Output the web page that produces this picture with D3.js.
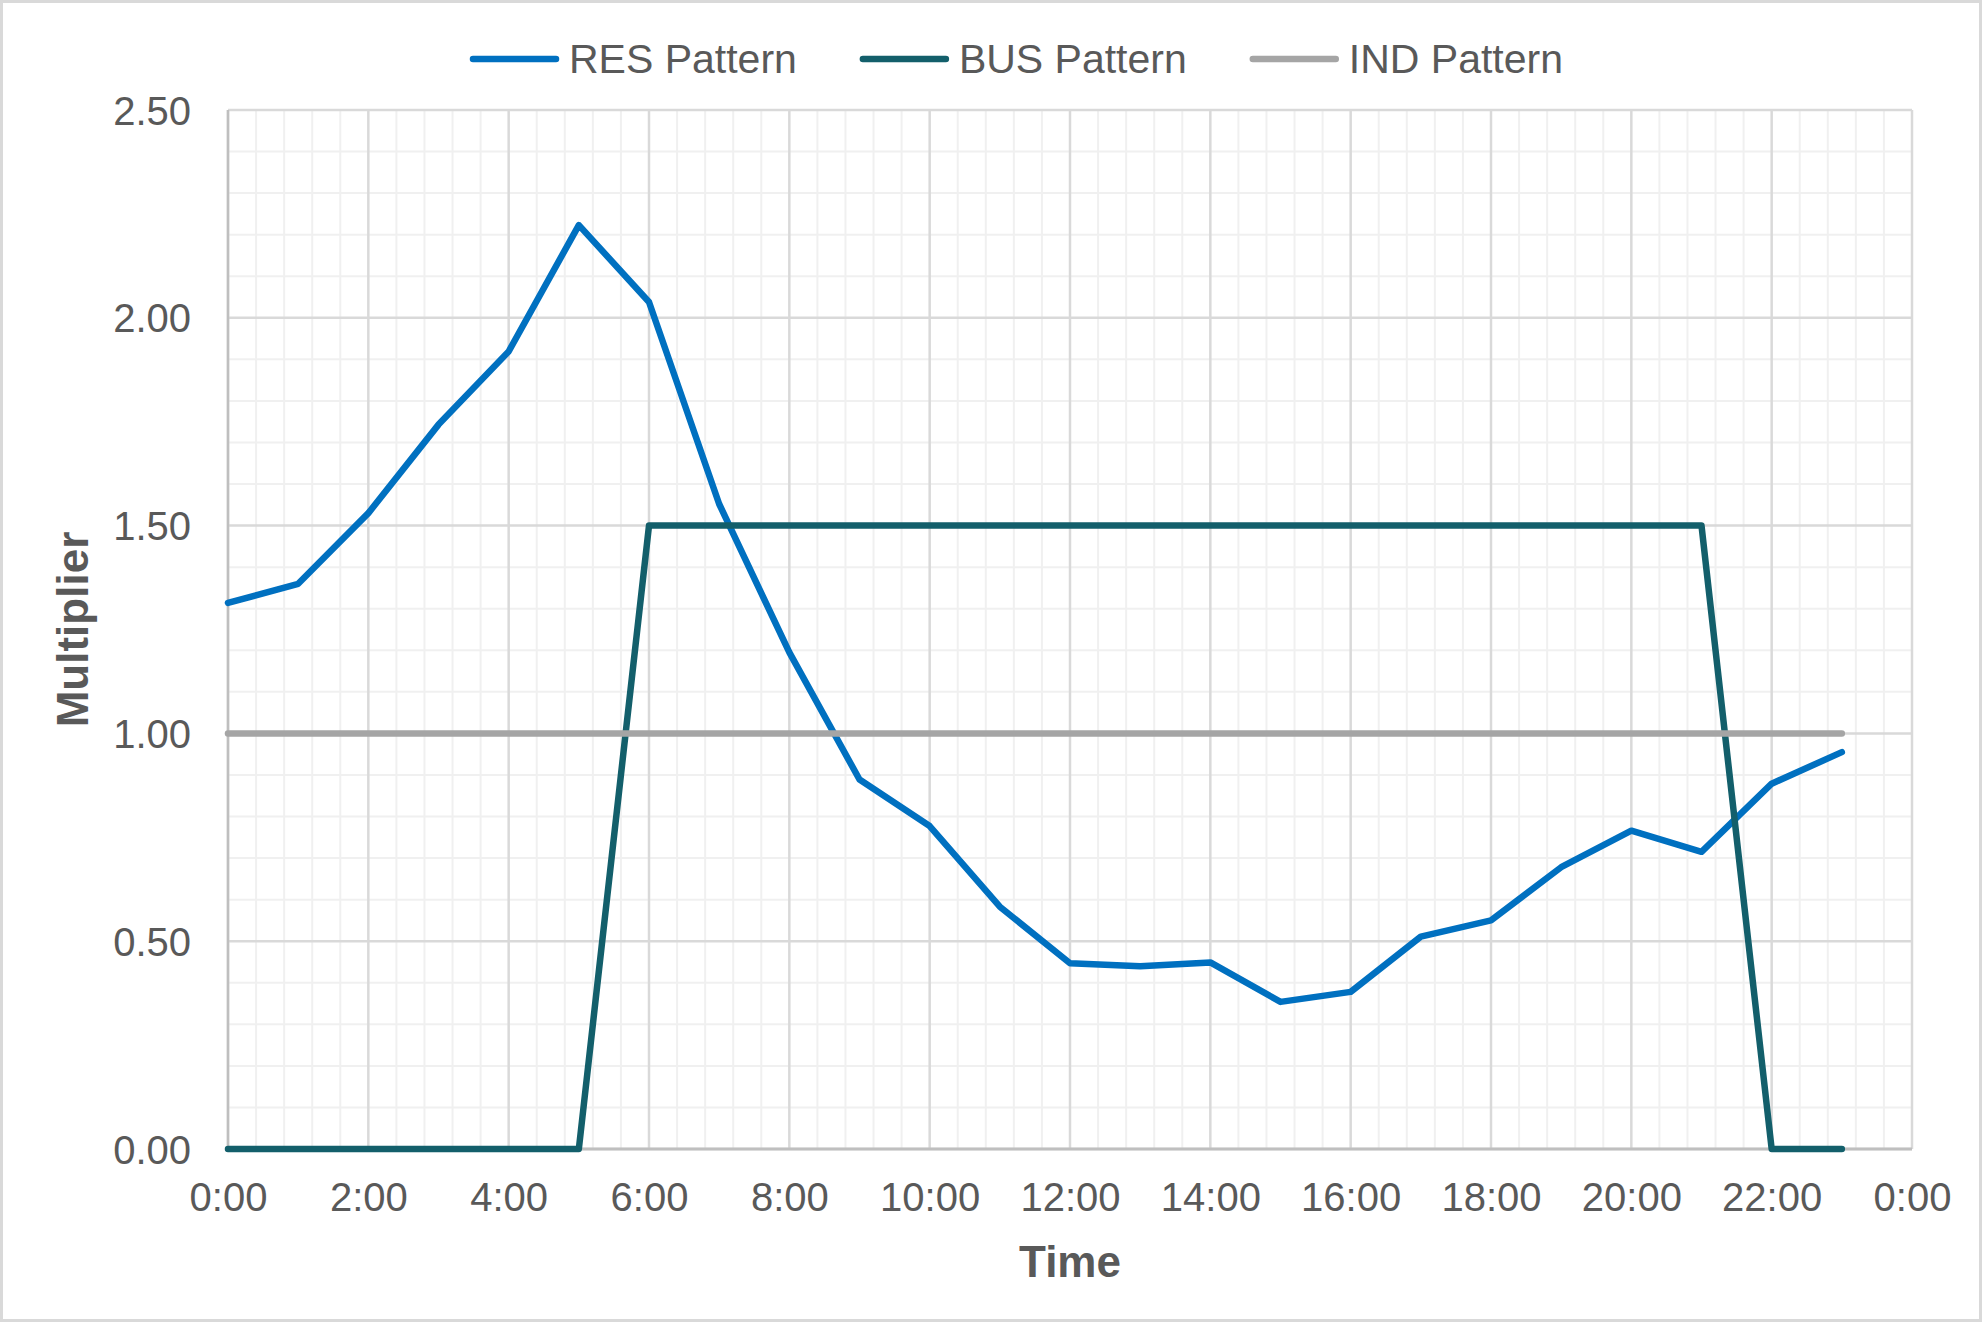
<!DOCTYPE html>
<html>
<head>
<meta charset="utf-8">
<script src="https://cdn.jsdelivr.net/npm/d3@7"></script>
<style>
  html, body { margin: 0; padding: 0; background: #fff; }
  svg { display: block; }
  text { font-family: "Liberation Sans", Arial, sans-serif; fill: #595959; }
</style>
</head>
<body>
<svg id="chart" width="1982" height="1322"></svg>
<script>
// ---- data ----
const hours = [0,1,2,3,4,5,6,7,8,9,10,11,12,13,14,15,16,17,18,19,20,21,22,23];
const resPattern = [1.314,1.360,1.530,1.743,1.919,2.223,2.038,1.552,1.195,0.889,0.777,0.583,0.447,0.440,0.449,0.354,0.378,0.511,0.550,0.678,0.766,0.715,0.879,0.955];
const busPattern = [0,0,0,0,0,0,1.5,1.5,1.5,1.5,1.5,1.5,1.5,1.5,1.5,1.5,1.5,1.5,1.5,1.5,1.5,1.5,0,0];
const indPattern = [1,1,1,1,1,1,1,1,1,1,1,1,1,1,1,1,1,1,1,1,1,1,1,1];
const seriesNames = ["RES Pattern", "BUS Pattern", "IND Pattern"];
const seriesColors = ["#0070C0", "#135F6B", "#A5A5A5"];
const xTickHours = [0,2,4,6,8,10,12,14,16,18,20,22,24];
const yTickValues = [0,0.5,1.0,1.5,2.0,2.5];
const xTitle = "Time";
const yTitle = "Multiplier";

// ---- layout ----
const W = 1982, H = 1322;
const margin = {left: 228, top: 110, right: 70, bottom: 173};
const svg = d3.select("#chart");

svg.append("rect").attr("x", 1.5).attr("y", 1.5).attr("width", W - 3).attr("height", H - 3)
  .attr("fill", "#fff").attr("stroke", "#D9D9D9").attr("stroke-width", 3);

const x = d3.scaleLinear().domain([0, 24]).range([margin.left, W - margin.right]);
const y = d3.scaleLinear().domain([0, 2.5]).range([H - margin.bottom, margin.top]);

const g = svg.append("g");

// minor grid
const xMinor = d3.range(0, 24.001, 0.4).filter(v => Math.abs(v / 2 - Math.round(v / 2)) > 1e-6);
const yMinor = d3.range(0, 2.5001, 0.1).filter(v => Math.abs(v / 0.5 - Math.round(v / 0.5)) > 1e-6);
g.selectAll(".xminor").data(xMinor).join("line")
  .attr("x1", d => x(d)).attr("x2", d => x(d)).attr("y1", y(0)).attr("y2", y(2.5))
  .attr("stroke", "#F0F0F0").attr("stroke-width", 2);
g.selectAll(".yminor").data(yMinor).join("line")
  .attr("x1", x(0)).attr("x2", x(24)).attr("y1", d => y(d)).attr("y2", d => y(d))
  .attr("stroke", "#F0F0F0").attr("stroke-width", 2);

// major grid
g.selectAll(".xmajor").data(xTickHours).join("line")
  .attr("x1", d => x(d)).attr("x2", d => x(d)).attr("y1", y(0)).attr("y2", y(2.5))
  .attr("stroke", "#D9D9D9").attr("stroke-width", 2.5);
g.selectAll(".ymajor").data(yTickValues).join("line")
  .attr("x1", x(0)).attr("x2", x(24)).attr("y1", d => y(d)).attr("y2", d => y(d))
  .attr("stroke", "#D9D9D9").attr("stroke-width", 2.5);

// axis lines
g.append("line").attr("x1", x(0)).attr("x2", x(0)).attr("y1", y(0)).attr("y2", y(2.5))
  .attr("stroke", "#BFBFBF").attr("stroke-width", 2.5);
g.append("line").attr("x1", x(0)).attr("x2", x(24)).attr("y1", y(0)).attr("y2", y(0))
  .attr("stroke", "#BFBFBF").attr("stroke-width", 3);

// axes (labels only)
const fmtTime = h => (h % 24) + ":00";
const xAxis = d3.axisBottom(x).tickValues(xTickHours).tickFormat(fmtTime).tickSize(0).tickPadding(0);
const xg = svg.append("g").attr("transform", `translate(0,${y(0)})`).call(xAxis);
xg.select(".domain").remove();
xg.selectAll("text").attr("font-size", 40).attr("dy", null).attr("y", 62)
  .attr("fill", "#595959").style("font-family", "'Liberation Sans', Arial, sans-serif");

const yAxis = d3.axisLeft(y).tickValues(yTickValues).tickFormat(d3.format(".2f")).tickSize(0).tickPadding(0);
const yg = svg.append("g").attr("transform", `translate(${x(0) - 37},0)`).call(yAxis);
yg.select(".domain").remove();
yg.selectAll("text").attr("font-size", 40).attr("x", 0).attr("dy", "0.35em")
  .attr("fill", "#595959").style("font-family", "'Liberation Sans', Arial, sans-serif");

// axis titles
svg.append("text").attr("x", x(12)).attr("y", 1277).attr("text-anchor", "middle")
  .attr("font-size", 44).attr("font-weight", "bold").text(xTitle);
svg.append("text").attr("transform", `translate(88,${(y(0) + y(2.5)) / 2}) rotate(-90)`)
  .attr("text-anchor", "middle").attr("font-size", 44).attr("font-weight", "bold").text(yTitle);

// series lines
const allSeries = [resPattern, busPattern, indPattern];
const line = d3.line().x((d, i) => x(hours[i])).y(d => y(d));
allSeries.forEach((vals, k) => {
  g.append("path").datum(vals).attr("d", line)
    .attr("fill", "none").attr("stroke", seriesColors[k]).attr("stroke-width", 6.5)
    .attr("stroke-linejoin", "round").attr("stroke-linecap", "round");
});

// legend
const leg = svg.append("g");
let lx = 470;
const ly = 59;
seriesNames.forEach((name, k) => {
  leg.append("line").attr("x1", lx + 3).attr("x2", lx + 86).attr("y1", ly).attr("y2", ly)
    .attr("stroke", seriesColors[k]).attr("stroke-width", 6.5).attr("stroke-linecap", "round");
  const t = leg.append("text").attr("x", lx + 99).attr("y", ly).attr("dy", "0.35em")
    .attr("font-size", 41).text(name);
  lx = lx + 99 + t.node().getComputedTextLength() + 63;
});
</script>
</body>
</html>
